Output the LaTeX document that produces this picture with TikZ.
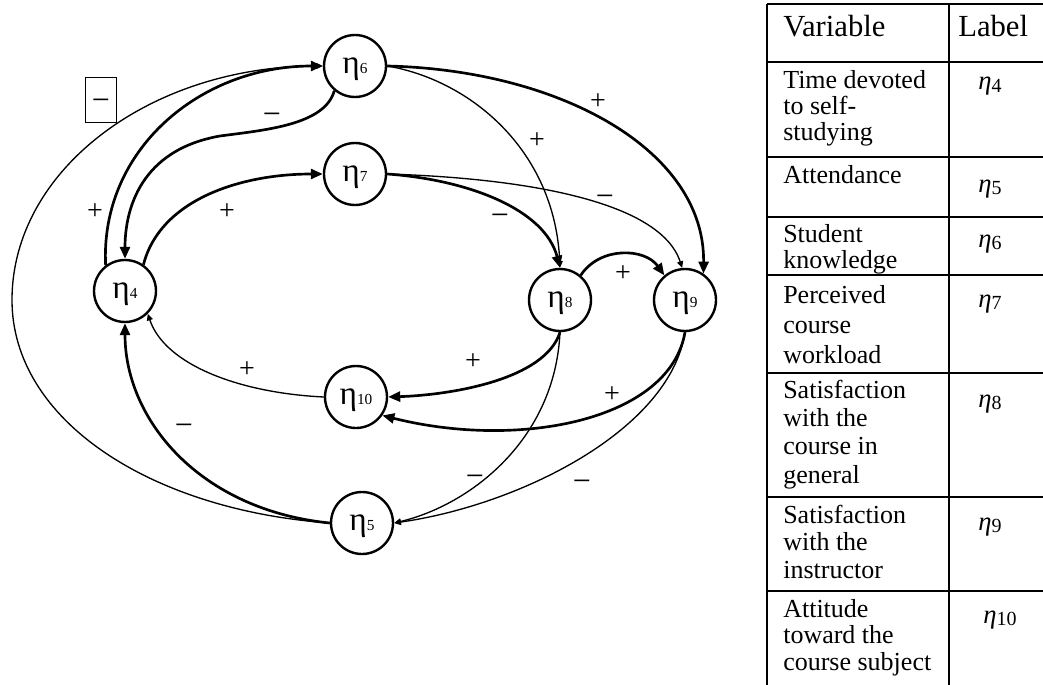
\documentclass[tikz,border=0pt]{standalone}
\usepackage{fontspec}
\setmainfont{Liberation Serif}
\usetikzlibrary{arrows.meta}
\newcommand\etadig[1]{{\fontsize{11.5}{11.5}\selectfont #1}}
\newcommand\tabeta[1]{\textit{η}\raisebox{-2pt}{\fontsize{15}{15}\selectfont #1}}
\newcommand\firstline{\rule{0pt}{15pt}}
\begin{document}
\begin{tikzpicture}[x=0.75pt,y=-0.75pt,
  var/.style={circle, draw, line width=1.8pt, minimum size=46.5pt, inner sep=0pt,
     font=\fontsize{25}{25}\selectfont, text height=17pt, text depth=5.5pt},
  strong/.style={line width=2pt, -{Triangle[length=9pt,width=7.5pt]}},
  weak/.style={line width=1pt, -{Triangle[length=5pt,width=4.5pt]}},
  pl/.style={font=\fontsize{21}{21}\selectfont, anchor=base, inner sep=0pt, yshift=-5.2pt},
  mi/.style={font=\fontsize{24}{24}\selectfont, anchor=base, inner sep=0pt, yshift=-6pt},
  sbox/.style={draw, line width=1pt, minimum width=23pt, minimum height=34pt, inner sep=0pt,
     font=\fontsize{24}{24}\selectfont, text height=16pt, text depth=0pt},
  tbl/.style={line width=1.5pt},
  cell/.style={anchor=north west, align=left, inner sep=0pt},
  head/.style={anchor=base west, inner sep=0pt, font=\fontsize{23}{23}\selectfont},
  lab/.style={anchor=base, inner sep=0pt, font=\fontsize{20}{20}\selectfont},
]
\useasboundingbox (0,0) rectangle (1043,685);

% variables
\node[var] (n4)  at (125,291) {η\etadig{4}};
\node[var] (n5)  at (362,523) {η\etadig{5}};
\node[var] (n6)  at (355,66)  {η\etadig{6}};
\node[var] (n7)  at (355,174) {η\etadig{7}};
\node[var] (n8)  at (560,300) {η\etadig{8}};
\node[var] (n9)  at (685,300) {η\etadig{9}};
\node[var] (n10) at (356,397) {η\etadig{10}};

% connectors
\draw[weak] (n5.west) .. controls (150,510) and (12,420) .. (12,300)
                      .. controls (12,170) and (150,66) .. (n6.west);
\draw[strong] (n4.127) .. controls (100,150) and (200,66) .. (n6.west);
\draw[strong] (n6.230) .. controls (325,125) and (265,130) .. (220,136)
                       .. controls (140,150) and (125,210) .. (n4.north);
\draw[strong] (n4.55) .. controls (160,200) and (240,174) .. (n7.west);
\draw[strong] (n7.east) .. controls (470,180) and (545,210) .. (n8.north);
\draw[weak] (n7.east) .. controls (520,178) and (660,200) .. (n9.95);
\draw[weak] (n6.east) .. controls (470,80) and (555,150) .. (n8.north);
\draw[strong] (n6.east) .. controls (560,70) and (705,150) .. (n9.55);
\draw[strong] (n8.50) .. controls (600,246) and (645,248) .. (n9.130);
\draw[strong] (n8.south) .. controls (545,380) and (450,395) .. (n10.east);
\draw[strong] (n9.south) .. controls (670,420) and (520,450) .. (n10.-35);
\draw[weak] (n10.west) .. controls (240,393) and (165,365) .. (n4.-45);
\draw[strong] (n5.west) .. controls (200,510) and (125,420) .. (n4.south);
\draw[weak] (n8.south) .. controls (555,440) and (470,505) .. (n5.east);
\draw[weak] (n9.south) .. controls (670,430) and (520,505) .. (n5.east);

% signs
\node[pl] (s1) at (95,213) {+};
\node[mi] (s2) at (272,117) {−};
\node[pl] (s3) at (227,213) {+};
\node[pl] (s4) at (598,103) {+};
\node[pl] (s5) at (537,142) {+};
\node[mi] (s6) at (605,198) {−};
\node[mi] (s7) at (500,217) {−};
\node[pl] (s8) at (623,275) {+};
\node[pl] (s9) at (473,363) {+};
\node[pl] (s10) at (612,396) {+};
\node[mi] (s11) at (475,478) {−};
\node[mi] (s12) at (582,483) {−};
\node[pl] (s13) at (247,371) {+};
\node[mi] (s14) at (184,427) {−};
\node[sbox] (s15) at (101,100) {−};

% table
\draw[tbl] (767,4) -- (767,685);
\draw[tbl] (949,4) -- (949,685);
\foreach \yy in {4,62,157,217,275,373,497,591} \draw[tbl] (767,\yy) -- (1043,\yy);

\node[head] (hv) at (783,37) {Variable};
\node[head] (hl) at (958,37) {Label};

\node[cell, font=\fontsize{19.5}{19.5}\selectfont] (c4)  at (783,68)
  {\firstline Time devoted\\to self-\\studying};
\node[cell, font=\fontsize{19.5}{20}\selectfont] (c5)  at (783,163) {\firstline Attendance};
\node[cell, font=\fontsize{19.5}{19.5}\selectfont] (c6)  at (783,222) {\firstline Student\\knowledge};
\node[cell, font=\fontsize{19.5}{22.5}\selectfont] (c7)  at (783,283) {\firstline Perceived\\course\\workload};
\node[cell, font=\fontsize{19.5}{21.25}\selectfont] (c8)  at (783,378) {\firstline Satisfaction\\with the\\course in\\general};
\node[cell, font=\fontsize{19.5}{20.6}\selectfont] (c9)  at (783,503) {\firstline Satisfaction\\with the\\instructor};
\node[cell, font=\fontsize{19.5}{20}\selectfont] (c10) at (783,597) {\firstline Attitude\\toward the\\course subject};

\node[lab] (e4)  at (990,90)   {\tabeta{4}};
\node[lab] (e5)  at (990,192)  {\tabeta{5}};
\node[lab] (e6)  at (990,247)  {\tabeta{6}};
\node[lab] (e7)  at (990,307)  {\tabeta{7}};
\node[lab] (e8)  at (990,407)  {\tabeta{8}};
\node[lab] (e9)  at (990,530)  {\tabeta{9}};
\node[lab] (e10) at (1000,623) {\tabeta{10}};
\end{tikzpicture}
\end{document}
